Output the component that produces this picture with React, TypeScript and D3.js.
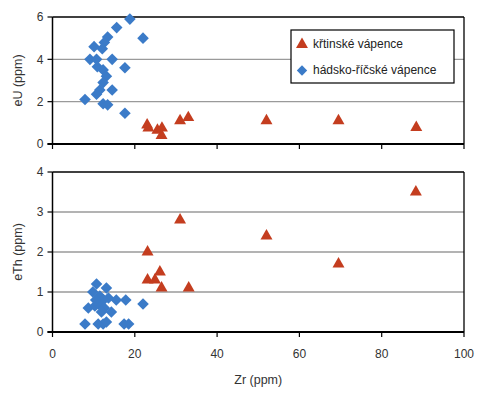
import React from "react";
import * as d3 from "d3";

// křtinské vápence (red triangles)
const krtZr = [23.0, 23.3, 25.5, 26.6, 26.5, 31.0, 33.0, 52.0, 69.5, 88.4];
const krtU = [0.9, 0.75, 0.65, 0.75, 0.4, 1.1, 1.25, 1.1, 1.1, 0.78];
const krtZrB = [23.1, 23.1, 24.9, 26.1, 26.5, 31.0, 33.1, 52.0, 69.5, 88.3];
const krtTh = [2.0, 1.3, 1.3, 1.5, 1.1, 2.8, 1.1, 2.4, 1.7, 3.5];

// hádsko-říčské vápence (blue diamonds)
const hadZr = [18.8, 15.6, 13.4, 12.6, 10.1, 22.0, 12.1, 9.1, 10.7, 14.5, 10.9, 17.6, 12.3, 13.1, 12.3, 11.5, 14.5, 10.7, 7.9, 12.3, 13.4, 17.6];
const hadU = [5.9, 5.5, 5.05, 4.8, 4.6, 5.0, 4.5, 4.0, 4.0, 4.0, 3.65, 3.6, 3.5, 3.2, 2.9, 2.55, 2.55, 2.35, 2.1, 1.9, 1.85, 1.45];
const hadZrB = [10.7, 13.1, 9.8, 11.5, 12.4, 13.6, 15.5, 17.8, 22.0, 8.7, 10.3, 11.1, 12.6, 14.3, 11.9, 7.9, 11.1, 12.3, 13.1, 17.4, 18.5, 10.5];
const hadTh = [1.2, 1.1, 1.0, 0.9, 0.8, 0.85, 0.8, 0.8, 0.7, 0.6, 0.65, 0.7, 0.6, 0.5, 0.5, 0.2, 0.2, 0.2, 0.25, 0.2, 0.2, 0.8];

const xTicks = [0, 20, 40, 60, 80, 100];
const uTicks = [0, 2, 4, 6];
const thTicks = [0, 1, 2, 3, 4];

const RED = "#C43D1F";
const BLUE = "#3B7BC8";
const FONT = "Liberation Sans, Arial, sans-serif";

const W = 483;
const H = 394;
const left = 52.5;
const right = 464;

const x = d3.scaleLinear().domain([0, 100]).range([left, right]);
const yU = d3.scaleLinear().domain([0, 6]).range([144, 17]);
const yTh = d3.scaleLinear().domain([0, 4]).range([332, 172]);

const tri = d3.symbol().type(d3.symbolTriangle).size(62)();
const dia = (s: number) => `M0,${-s}L${s},0L0,${s}L${-s},0Z`;

function Panel({ y, ticks, label, showX }: { y: d3.ScaleLinear<number, number>; ticks: number[]; label: string; showX: boolean }) {
  const [y0, y1] = y.range();
  return (
    <g>
      {ticks.slice(1, -1).map((t) => (
        <line key={"g" + t} x1={left} x2={right} y1={y(t)} y2={y(t)} stroke="#9a9a9a" strokeWidth={1.3} />
      ))}
      <line x1={left} x2={right} y1={y1} y2={y1} stroke="#000" strokeWidth={1.3} />
      <line x1={right} x2={right} y1={y1} y2={y0} stroke="#000" strokeWidth={1.3} />
      <line x1={left} x2={left} y1={y1} y2={y0} stroke="#000" strokeWidth={1.5} />
      <line x1={left - 5} x2={right} y1={y0} y2={y0} stroke="#000" strokeWidth={1.8} />
      {ticks.map((t) => (
        <g key={"t" + t}>
          <line x1={left - 5} x2={left} y1={y(t)} y2={y(t)} stroke="#000" strokeWidth={1.2} />
          <text x={left - 9} y={y(t)} dy="0.35em" textAnchor="end" fontSize={12} fill="#333" fontFamily={FONT}>
            {t}
          </text>
        </g>
      ))}
      {xTicks.map((t) => (
        <g key={"x" + t}>
          <line x1={x(t)} x2={x(t)} y1={y0} y2={y0 + 5} stroke="#000" strokeWidth={1.2} />
          {showX && (
            <text x={x(t)} y={y0 + 26} textAnchor="middle" fontSize={12} fill="#333" fontFamily={FONT}>
              {t}
            </text>
          )}
        </g>
      ))}
      <text
        transform={`translate(22,${(y0 + y1) / 2}) rotate(-90)`}
        textAnchor="middle"
        fontSize={12.5}
        fill="#333"
        fontFamily={FONT}
      >
        {label}
      </text>
    </g>
  );
}

export default function App() {
  return (
    <div style={{ position: "absolute", left: 0, top: 0 }}>
      <svg width={W} height={H} style={{ display: "block", background: "#fff" }}>
        <Panel y={yU} ticks={uTicks} label="eU (ppm)" showX={false} />
        <Panel y={yTh} ticks={thTicks} label="eTh (ppm)" showX={true} />
        {hadZr.map((v, i) => (
          <path key={"hu" + i} d={dia(5.8)} transform={`translate(${x(v)},${yU(hadU[i])})`} fill={BLUE} />
        ))}
        {krtZr.map((v, i) => (
          <path key={"ku" + i} d={tri} transform={`translate(${x(v)},${yU(krtU[i])})`} fill={RED} />
        ))}
        {hadZrB.map((v, i) => (
          <path key={"ht" + i} d={dia(5.8)} transform={`translate(${x(v)},${yTh(hadTh[i])})`} fill={BLUE} />
        ))}
        {krtZrB.map((v, i) => (
          <path key={"kt" + i} d={tri} transform={`translate(${x(v)},${yTh(krtTh[i])})`} fill={RED} />
        ))}
        <g>
          <rect x={291} y={30} width={163} height={53} fill="#fff" stroke="#000" strokeWidth={1.2} />
          <path d={tri} transform="translate(302,44.5)" fill={RED} />
          <text x={313} y={44} dy="0.35em" fontSize={12} fill="#222" fontFamily={FONT}>
            křtinské vápence
          </text>
          <path d={dia(5.2)} transform="translate(302,70.5)" fill={BLUE} />
          <text x={313} y={70} dy="0.35em" fontSize={12} fill="#222" fontFamily={FONT}>
            hádsko-říčské vápence
          </text>
        </g>
        <text x={x(50)} y={384} textAnchor="middle" fontSize={12.5} fill="#333" fontFamily={FONT}>
          Zr (ppm)
        </text>
      </svg>
    </div>
  );
}
